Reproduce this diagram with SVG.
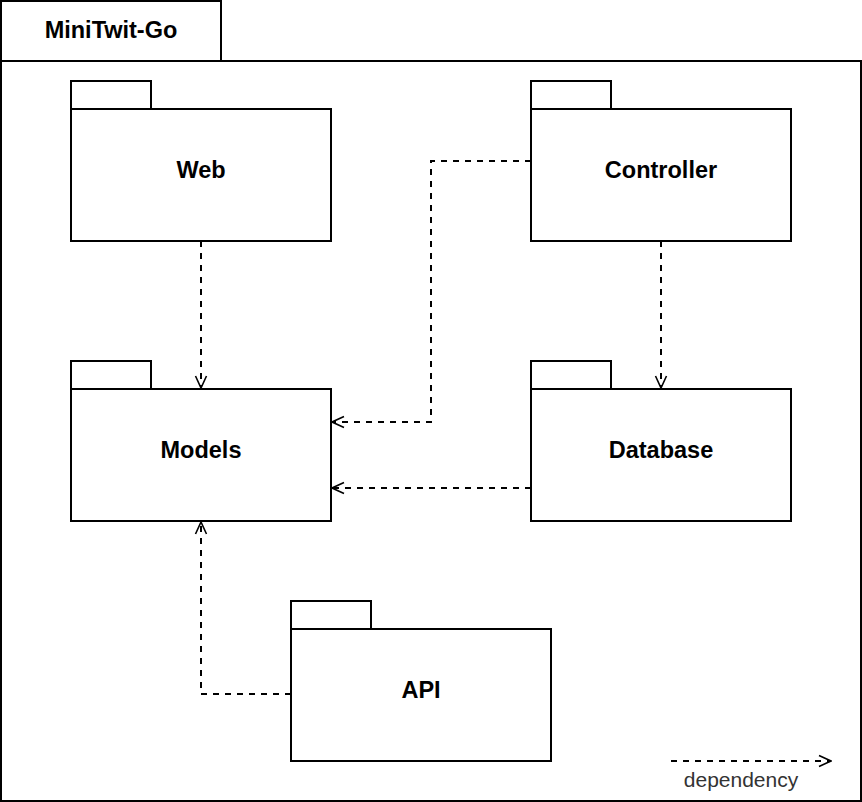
<svg xmlns="http://www.w3.org/2000/svg" width="862" height="802" viewBox="0 0 862 802">
<defs>
<style>
.frame{fill:#fff;stroke:#000;stroke-width:2}
.lbl{font-family:"Liberation Sans",Arial,sans-serif;font-weight:bold;font-size:23.5px;fill:#000;text-anchor:middle}
.dep{fill:none;stroke:#000;stroke-width:2;stroke-dasharray:6 6;marker-end:url(#open)}
.leg{font-family:"Liberation Sans",Arial,sans-serif;font-size:21px;fill:#333;text-anchor:middle}
</style>
<marker id="open" viewBox="0 0 14 14" refX="13" refY="7" markerWidth="14" markerHeight="14" markerUnits="userSpaceOnUse" orient="auto">
<path d="M1,1.5 L13,7 L1,12.5" fill="none" stroke="#000" stroke-width="1.6" stroke-dasharray="none"/>
</marker>
</defs>
<rect width="862" height="802" fill="#fff"/>
<g id="MiniTwit-Go">
<rect class="frame" x="1" y="1" width="220" height="60"/>
<rect class="frame" x="1" y="61" width="860" height="740"/>
<text class="lbl" x="111" y="38">MiniTwit-Go</text>
</g>
<g id="Web">
<rect class="frame" x="71" y="81" width="80" height="28"/>
<rect class="frame" x="71" y="109" width="260" height="132"/>
<text class="lbl" x="201" y="178">Web</text>
</g>
<g id="Controller">
<rect class="frame" x="531" y="81" width="80" height="28"/>
<rect class="frame" x="531" y="109" width="260" height="132"/>
<text class="lbl" x="661" y="178">Controller</text>
</g>
<g id="Models">
<rect class="frame" x="71" y="361" width="80" height="28"/>
<rect class="frame" x="71" y="389" width="260" height="132"/>
<text class="lbl" x="201" y="458">Models</text>
</g>
<g id="Database">
<rect class="frame" x="531" y="361" width="80" height="28"/>
<rect class="frame" x="531" y="389" width="260" height="132"/>
<text class="lbl" x="661" y="458">Database</text>
</g>
<g id="API">
<rect class="frame" x="291" y="601" width="80" height="28"/>
<rect class="frame" x="291" y="629" width="260" height="132"/>
<text class="lbl" x="421" y="698">API</text>
</g>
<g id="connectors">
<path class="dep" d="M201,241 V388"/>
<path class="dep" d="M531,161 H431 V422 H332"/>
<path class="dep" d="M661,241 V388"/>
<path class="dep" d="M531,488 H332"/>
<path class="dep" d="M291,694 H201 V522"/>
<path class="dep" d="M671,761 H831"/>
</g>
<g id="legend">
<text class="leg" x="741" y="787">dependency</text>
</g>
</svg>
